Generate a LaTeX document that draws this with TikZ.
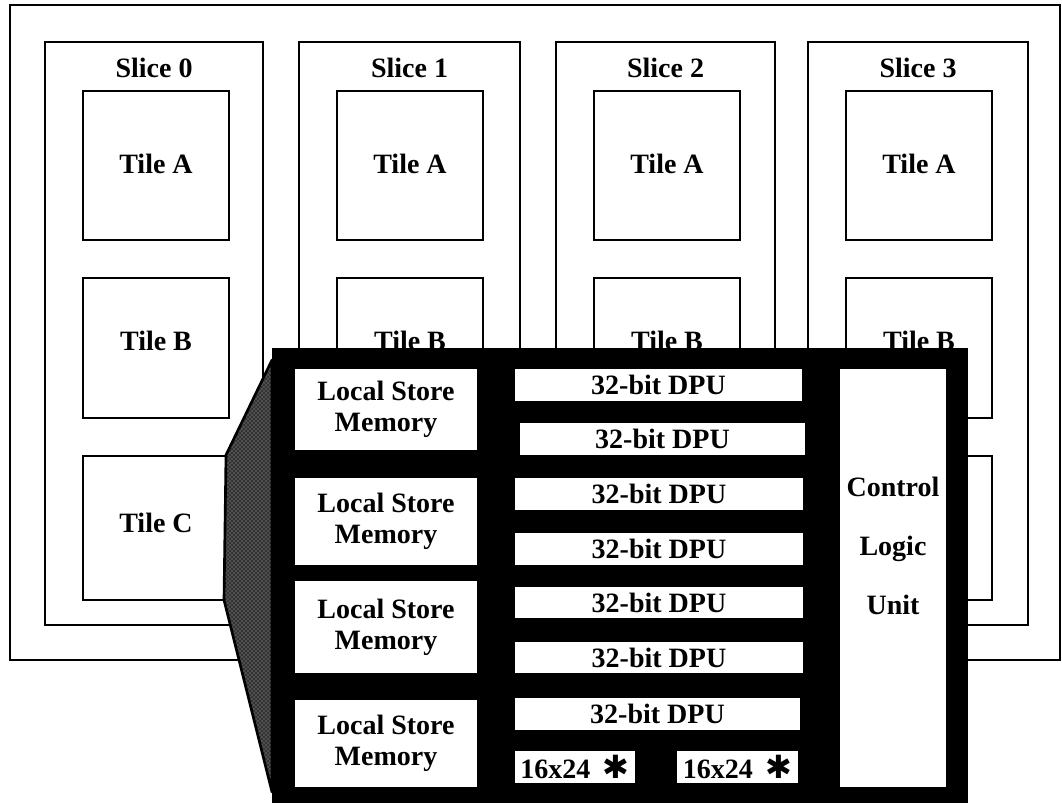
\documentclass[tikz,border=0pt]{standalone}
\usepackage{fontspec}
\setmainfont{Liberation Serif}
\newfontfamily\symfont{DejaVu Sans}
\usetikzlibrary{patterns}
\newcommand\mkbox[7]{%
  \pgfmathsetmacro\bxcx{((#3)+(#5))/2}%
  \pgfmathsetmacro\bxcy{((#4)+(#6))/2}%
  \pgfmathsetmacro\bxw{((#5)-(#3))*0.75}%
  \pgfmathsetmacro\bxh{((#6)-(#4))*0.75}%
  \node[#1, minimum width=\bxw pt, minimum height=\bxh pt, anchor=center] (#2) at (\bxcx,\bxcy) {#7};}
\begin{document}
\begin{tikzpicture}[x=0.75pt,y=-0.75pt,
  every node/.style={font=\fontsize{21}{23}\selectfont\bfseries},
  frame/.style={draw=black, line width=2.2pt, fill=white, inner sep=0pt},
  wbox/.style={fill=white, draw=none, inner sep=0pt, align=center},
  chipbox/.style={fill=black, draw=none, inner sep=0pt}]
\useasboundingbox (0,0) rectangle (1062,803);
% outer frame
\mkbox{frame}{outer}{10}{5}{1060}{660}{}
% slices and tiles
\foreach \i/\xl/\xr in {0/45/263, 1/299/520, 2/556/775, 3/808/1028}{
  \mkbox{frame}{slice\i}{\xl}{42}{\xr}{625}{}
  \node (slabel\i) at ({(\xl+\xr)/2},68) {Slice \i};
  \mkbox{frame}{tileA\i}{\xl+38}{91}{\xl+184}{240}{\raisebox{1.5pt}[\height][\depth]{Tile A}}
  \mkbox{frame}{tileB\i}{\xl+38}{278}{\xl+184}{418}{\raisebox{5pt}[\height][\depth]{Tile B}}
}
\mkbox{frame}{tileC0}{83}{456}{229}{600}{\raisebox{3.5pt}[\height][\depth]{Tile C}}
\foreach \i/\xl in {1/299, 2/556, 3/808}{
  \mkbox{frame}{tileC\i}{\xl+38}{456}{\xl+184}{600}{}
}
% magnifier wedge
\coordinate (w1) at (272,360);
\coordinate (w2) at (226,455);
\coordinate (w3) at (224,600);
\coordinate (w4) at (272,792);
\fill[black!80] (w1) -- (w2) -- (w3) -- (w4) -- cycle;
\fill[pattern=crosshatch dots, pattern color=white!70!black] (w1) -- (w2) -- (w3) -- (w4) -- cycle;
\draw[line width=2pt, line join=round] (w1) -- (w2) -- (w3) -- (w4) -- cycle;
% zoomed tile
\mkbox{chipbox}{chip}{272}{348}{968}{803}{}
\foreach \j/\ya/\yb in {1/369/450, 2/478/565, 3/581/673, 4/700/787}{
  \mkbox{wbox}{lsm\j}{295}{\ya}{477}{\yb}{Local Store\\Memory}
}
\foreach \j/\xa/\ya/\xb/\yb in {1/515/369/802/401, 2/520/423/805/455, 3/515/478/803/510, 4/515/533/803/565, 5/515/587/803/618, 6/515/642/803/673, 7/515/698/800/730}{
  \mkbox{wbox}{dpu\j}{\xa}{\ya}{\xb}{\yb}{32-bit DPU}
}
\mkbox{wbox}{mulA}{515}{751}{635}{783}{16x24\hspace{0.45em}{\symfont\mdseries\fontsize{24}{24}\selectfont ✱}}
\mkbox{wbox}{mulB}{677}{751}{798}{783}{16x24\hspace{0.45em}{\symfont\mdseries\fontsize{24}{24}\selectfont ✱}}
\mkbox{wbox}{ctrl}{840}{369}{946}{787}{}
\node[align=center] (ctrltext) at (893,546) {Control\\[21pt]Logic\\[21pt]Unit};
\end{tikzpicture}
\end{document}
